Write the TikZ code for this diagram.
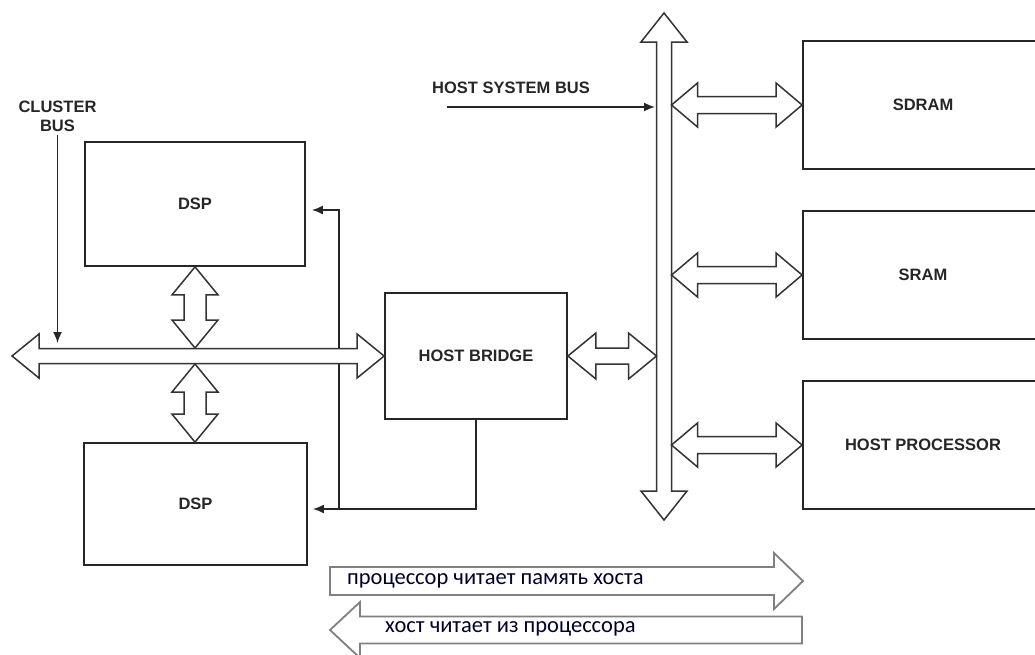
\documentclass[tikz,border=0pt]{standalone}
\usepackage{fontspec}
\setmainfont{Liberation Sans}
\newfontfamily\legfont{Carlito}
\usetikzlibrary{calc,arrows.meta}

% horizontal double block arrow: #1 left tip, #2 right tip, #3 shaft half, #4 head half, #5 head length, #6 style
\newcommand\hdbl[6]{\path[#6] let \p1=(#1), \p2=(#2) in
 (\x1,\y1) -- (\x1+#5,\y1+#4) -- (\x1+#5,\y1+#3) -- (\x2-#5,\y1+#3) -- (\x2-#5,\y1+#4) -- (\x2,\y1)
 -- (\x2-#5,\y1-#4) -- (\x2-#5,\y1-#3) -- (\x1+#5,\y1-#3) -- (\x1+#5,\y1-#4) -- cycle;}
% vertical double block arrow: #1 top tip, #2 bottom tip
\newcommand\vdbl[6]{\path[#6] let \p1=(#1), \p2=(#2) in
 (\x1,\y1) -- (\x1+#4,\y1-#5) -- (\x1+#3,\y1-#5) -- (\x1+#3,\y2+#5) -- (\x1+#4,\y2+#5) -- (\x1,\y2)
 -- (\x1-#4,\y2+#5) -- (\x1-#3,\y2+#5) -- (\x1-#3,\y1-#5) -- (\x1-#4,\y1-#5) -- cycle;}
% single block arrow pointing right: #1 tail, #2 tip
\newcommand\harrR[6]{\path[#6] let \p1=(#1), \p2=(#2) in
 (\x1,\y1+#3) -- (\x2-#5,\y1+#3) -- (\x2-#5,\y1+#4) -- (\x2,\y1) -- (\x2-#5,\y1-#4) -- (\x2-#5,\y1-#3) -- (\x1,\y1-#3) -- cycle;}
% single block arrow pointing left: #1 tip, #2 tail
\newcommand\harrL[6]{\path[#6] let \p1=(#1), \p2=(#2) in
 (\x1,\y1) -- (\x1+#5,\y1+#4) -- (\x1+#5,\y1+#3) -- (\x2,\y1+#3) -- (\x2,\y1-#3) -- (\x1+#5,\y1-#3) -- (\x1+#5,\y1-#4) -- cycle;}

\begin{document}
\begin{tikzpicture}[x=1pt,y=-1pt,
 box/.style={draw=black!85, line width=1.8pt, fill=white, inner sep=0pt,
   font=\bfseries\fontsize{16.5}{19}\selectfont, text=black!85},
 lbl/.style={font=\bfseries\fontsize{16.5}{19}\selectfont, inner sep=0pt, text=black!85},
 conn/.style={draw=black!85, line width=1.7pt},
 tip/.style={-{Latex[length=11pt,width=9pt]}},
 blk/.style={draw=black!80, line width=1.5pt, fill=white, line join=miter},
 legblk/.style={draw=black!50, line width=1.8pt, fill=white, line join=miter},
 legtxt/.style={font=\legfont\fontsize{22.5}{26}\selectfont, inner sep=0pt, text=black!85!blue, anchor=west}
]
\clip (0,0) rectangle (1035,654);
\fill[white] (0,0) rectangle (1035,654);

% blocks
\node[box, minimum width=220pt, minimum height=124pt] (dsp1) at (195,204) {DSP};
\node[box, minimum width=223pt, minimum height=122pt] (dsp2) at (195.5,504) {DSP};
\node[box, minimum width=182pt, minimum height=126pt] (bridge) at (476,356) {HOST BRIDGE};
\node[box, minimum width=240pt, minimum height=128pt] (sdram) at (923,105) {SDRAM};
\node[box, minimum width=240pt, minimum height=128pt] (sram) at (923,275) {SRAM};
\node[box, minimum width=240pt, minimum height=128pt] (hostproc) at (923,445) {HOST PROCESSOR};

% host bridge control lines to the DSPs
\coordinate (jn) at (339,509);
\coordinate (jt) at (339,210);
\draw[conn] (bridge.south) |- (jn);
\draw[conn,tip,shorten >=5pt] (jn) -- (jn -| dsp2.east);
\draw[conn,tip,shorten >=6pt] (jn) -- (jt) -- (jt -| dsp1.east);

% cluster bus
\coordinate (cbl) at (12,356);
\hdbl{cbl}{bridge.west}{7.5pt}{22pt}{27pt}{blk}
\coordinate (cbt) at (195,348);
\coordinate (cbb) at (195,364);
\vdbl{dsp1.south}{cbt}{11pt}{23pt}{28pt}{blk}
\vdbl{cbb}{dsp2.north}{11pt}{23pt}{28pt}{blk}

% cluster bus label
\node[lbl, align=center] (cl) at (57.5,116) {CLUSTER\\BUS};
\coordinate (clin) at (57,343);
\draw[conn,tip,shorten <=3pt] (cl.south) -- (cl.south |- clin);

% host system bus
\coordinate (sbt) at (664,13);
\coordinate (sbb) at (664,520);
\coordinate (sbL) at (656.5,0);
\coordinate (sbR) at (671.5,0);
\vdbl{sbt}{sbb}{7.5pt}{23pt}{29pt}{blk}
\hdbl{bridge.east}{bridge.east -| sbL}{8pt}{23pt}{28pt}{blk}
\hdbl{sdram.west -| sbR}{sdram.west}{8.5pt}{22pt}{26pt}{blk}
\hdbl{sram.west -| sbR}{sram.west}{8.5pt}{22pt}{26pt}{blk}
\hdbl{hostproc.west -| sbR}{hostproc.west}{8.5pt}{22pt}{26pt}{blk}

\node[lbl] (hsb) at (511,88) {HOST SYSTEM BUS};
\coordinate (hsbs) at (447,107);
\coordinate (hsbe) at (655,107);
\draw[conn,tip] (hsbs) -- (hsbe);

% legend arrows
\coordinate (l1a) at (330,581);
\coordinate (l1b) at (803,581);
\harrR{l1a}{l1b}{14pt}{28pt}{29pt}{legblk}
\coordinate (l2a) at (330,630);
\coordinate (l2b) at (802,630);
\harrL{l2a}{l2b}{13.5pt}{28pt}{30pt}{legblk}
\node[legtxt] (lg1) at (347,581) {процессор читает память хоста};
\node[legtxt] (lg2) at (385,629) {хост читает из процессора};
\end{tikzpicture}
\end{document}
